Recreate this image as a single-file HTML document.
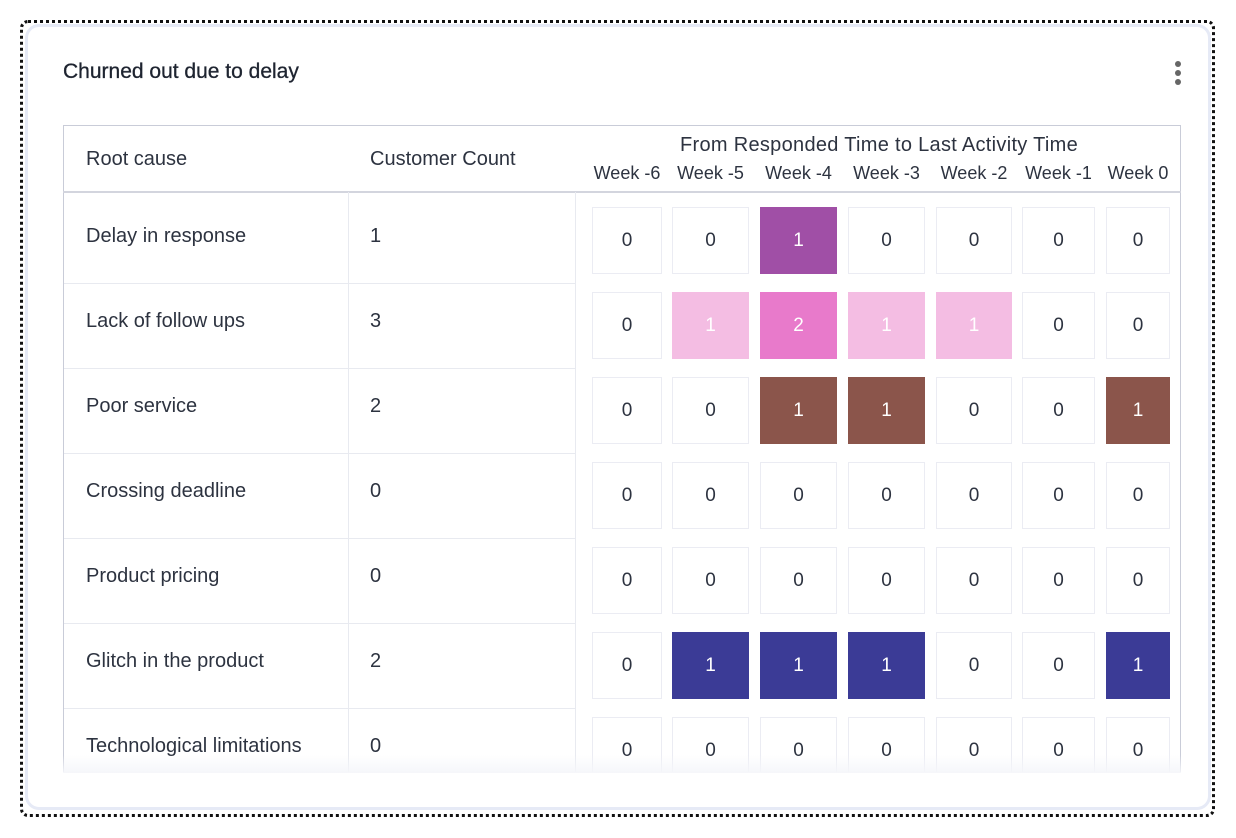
<!DOCTYPE html>
<html><head><style>
body{margin:0;width:1236px;height:838px;background:#fff;font-family:"Liberation Sans",sans-serif;color:#2d3340;position:relative;overflow:hidden}
.dot{position:absolute;left:20px;top:20px;width:1195px;height:797px;border:3px dotted #111;border-radius:8px;box-sizing:border-box}
.card{position:absolute;left:25px;top:24px;width:1186px;height:786px;border:3px solid #e6eaf6;border-radius:14px;box-sizing:border-box;background:#fff}
.t{position:absolute;font-size:20px;white-space:nowrap}
.title{left:63px;top:60px;font-size:21px;color:#1e2430;-webkit-text-stroke:0.3px #1e2430}
.tbl{position:absolute;left:63px;top:125px;width:1118px;height:647px;border:1px solid #c9ccd8;border-bottom:none;box-sizing:border-box;overflow:hidden}
.hl{position:absolute;background:#e8eaf0}
.c{position:absolute;width:70px;height:67px;border:1px solid #ebecf3;box-sizing:border-box;display:flex;align-items:center;justify-content:center;font-size:19px;color:#2d3340}
.fade{position:absolute;left:63px;top:755px;width:1118px;height:18px;background:linear-gradient(rgba(255,255,255,0),rgba(245,246,250,.95))}
.menu{position:absolute;left:1175px;width:6px;height:6px;border-radius:3px;background:#666}
#clip{position:absolute;left:0;top:0;width:1236px;height:772px;overflow:hidden}
</style></head><body>
<div class="dot"></div><div class="card"></div>
<div class="t title">Churned out due to delay</div>
<div class="menu" style="top:61px"></div><div class="menu" style="top:70px"></div><div class="menu" style="top:79px"></div>
<div class="tbl"></div>
<div class="hl" style="left:63px;top:191px;width:1118px;height:2px;background:#d3d5de"></div>
<div class="hl" style="left:348px;top:192px;width:1px;height:580px"></div>
<div class="hl" style="left:575px;top:192px;width:1px;height:580px"></div>
<div class="t" style="left:86px;top:148px">Root cause</div>
<div class="t" style="left:370px;top:148px">Customer Count</div>
<div class="t" style="left:680px;top:134px;font-size:20px;letter-spacing:0.3px">From Responded Time to Last Activity Time</div>
<div id="clip"><div id="g"></div></div>
<div class="fade"></div>
<script>
var xs=[592,672,760,848,936,1022,1106],ws=[70,77,77,77,76,73,64];
var wk=["Week -6","Week -5","Week -4","Week -3","Week -2","Week -1","Week 0"];
var rows=[["Delay in response","1"],["Lack of follow ups","3"],["Poor service","2"],["Crossing deadline","0"],["Product pricing","0"],["Glitch in the product","2"],["Technological limitations","0"]];
var vals=[[0,0,1,0,0,0,0],[0,1,2,1,1,0,0],[0,0,1,1,0,0,1],[0,0,0,0,0,0,0],[0,0,0,0,0,0,0],[0,1,1,1,0,0,1],[0,0,0,0,0,0,0]];
var col=[[0,0,"#a04fa6",0,0,0,0],[0,"#f4bde3","#e87acb","#f4bde3","#f4bde3",0,0],[0,0,"#8b554b","#8b554b",0,0,"#8b554b"],[],[],[0,"#3b3b96","#3b3b96","#3b3b96",0,0,"#3b3b96"],[]];
var h="";
for(var i=0;i<7;i++){h+='<div class="t" style="left:'+(xs[i]+ws[i]/2-45)+'px;width:90px;text-align:center;top:163px;font-size:18px">'+wk[i]+'</div>';}
for(var r=0;r<7;r++){var y=207+r*85;
 if(r>0)h+='<div class="hl" style="left:64px;top:'+(y-9)+'px;width:511px;height:1px"></div>';
 h+='<div class="t" style="left:86px;top:'+(y+18)+'px">'+rows[r][0]+'</div><div class="t" style="left:370px;top:'+(y+18)+'px">'+rows[r][1]+'</div>';
 for(var i=0;i<7;i++){var c=col[r][i];h+='<div class="c" style="left:'+xs[i]+'px;top:'+y+'px;width:'+ws[i]+'px;'+(c?'background:'+c+';border-color:'+c+';color:#fff':'')+'">'+vals[r][i]+'</div>';}}
document.getElementById("g").innerHTML=h;
</script>
</body></html>
